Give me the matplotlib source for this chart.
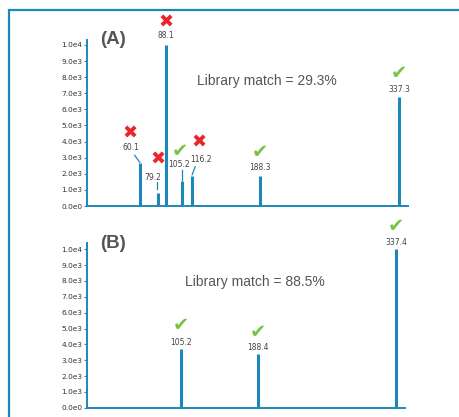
import matplotlib
matplotlib.use("Agg")
import matplotlib.pyplot as plt
from matplotlib.patches import Rectangle
from matplotlib.lines import Line2D

# Spectrum A (unknown) and spectrum B (reference)
mz_a = [60.1, 79.2, 88.1, 105.2, 116.2, 188.3, 337.3]
int_a = [2650, 800, 10000, 1550, 1880, 1880, 6800]
match_a = [False, False, False, True, False, True, True]
score_a = 29.3

mz_b = [105.2, 188.4, 337.4]
int_b = [3690, 3370, 10000]
match_b = [True, True, True]
score_b = 88.5

y_ticks = [0, 1000, 2000, 3000, 4000, 5000, 6000, 7000, 8000, 9000, 10000]
y_tick_labels = ["0.0e0", "1.0e3", "2.0e3", "3.0e3", "4.0e3", "5.0e3",
                 "6.0e3", "7.0e3", "8.0e3", "9.0e3", "1.0e4"]

BLUE = "#1d88b8"
RED = "#e8262b"
GREEN = "#7cc242"
GREY = "#555555"

# label / marker offsets in pixels relative to each peak top, plus optional leader
layout_a = [
    dict(lbl=(-9, 16), mk=(-10, 30), lead=((-5, 8), (0, 1))),
    dict(lbl=(-4.5, 16), mk=(0, 34), lead=((-1, 11), (-1, 4))),
    dict(lbl=(0, 9), mk=(0, 22), lead=None),
    dict(lbl=(-2.5, 17), mk=(-2, 30), lead=((0, 11), (0, 1))),
    dict(lbl=(8.5, 16), mk=(7, 33), lead=((3, 9), (0, 1))),
    dict(lbl=(0, 8), mk=(0, 23), lead=None),
    dict(lbl=(0, 7), mk=(0, 23), lead=None),
]
layout_b = [
    dict(lbl=(0, 7), mk=(0, 24), lead=None),
    dict(lbl=(0, 7), mk=(0, 22), lead=None),
    dict(lbl=(0, 7), mk=(0, 23), lead=None),
]

W, H = 459, 417
fig = plt.figure(figsize=(W / 100, H / 100), dpi=100)
fig.patch.set_facecolor("white")

# outer frame
fig.patches.append(Rectangle((9 / W, -0.1), 1.2, 1 - 10 / H + 0.1,
                             transform=fig.transFigure, fill=False,
                             edgecolor=BLUE, linewidth=1.6, clip_on=False))


def draw_panel(rect, mz, inten, matched, layout, ytop, title, score, title_xy, score_xy):
    ax = fig.add_axes(rect)
    ax.vlines(mz, 0, inten, colors=BLUE, linewidth=2.2)
    ax.set_xlim(3.7, 347)
    ax.set_ylim(0, ytop)
    for s in ("top", "right"):
        ax.spines[s].set_visible(False)
    for s in ("left", "bottom"):
        ax.spines[s].set_color(BLUE)
        ax.spines[s].set_linewidth(1.4)
    ax.set_xticks([])
    ax.set_yticks(y_ticks)
    ax.set_yticklabels(y_tick_labels)
    ax.tick_params(axis="y", length=2.5, width=0.8, color=BLUE, pad=1,
                   labelsize=5.3, labelcolor="#333333")
    for x, y, ok, lay in zip(mz, inten, matched, layout):
        ax.annotate(f"{x:.1f}", (x, y), xytext=lay["lbl"], textcoords="offset pixels",
                    ha="center", va="center", fontsize=5.5, color="#444444")
        ax.annotate("\u2714" if ok else "\u2716", (x, y), xytext=lay["mk"],
                    textcoords="offset pixels", ha="center", va="center",
                    fontsize=14 if ok else 13, color=GREEN if ok else RED,
                    family="DejaVu Sans")
        if lay["lead"]:
            p0 = ax.transData.transform((x, y))
            inv = fig.transFigure.inverted()
            pts = [inv.transform((p0[0] + dx, p0[1] + dy)) for dx, dy in lay["lead"]]
            fig.lines.append(Line2D([pts[0][0], pts[1][0]], [pts[0][1], pts[1][1]],
                                    transform=fig.transFigure, color=BLUE, linewidth=0.9))
    fig.text(title_xy[0] / W, 1 - title_xy[1] / H, title, ha="center", va="center",
             fontsize=13.5, fontweight="bold", color=GREY, family="Liberation Sans")
    fig.text(score_xy[0] / W, 1 - score_xy[1] / H, f"Library match = {score}%",
             ha="center", va="center", fontsize=10, color=GREY, family="Liberation Sans")
    return ax


draw_panel([87 / W, (H - 206) / H, (408 - 87) / W, (206 - 40) / H],
           mz_a, int_a, match_a, layout_a, 10310, "(A)", score_a, (113, 40), (267, 81))
draw_panel([87 / W, (H - 407.7) / H, (405 - 87) / W, (407.7 - 243.3) / H],
           mz_b, int_b, match_b, layout_b, 10380, "(B)", score_b, (113, 243), (255, 282))

fig.savefig("out.png", dpi=100)
